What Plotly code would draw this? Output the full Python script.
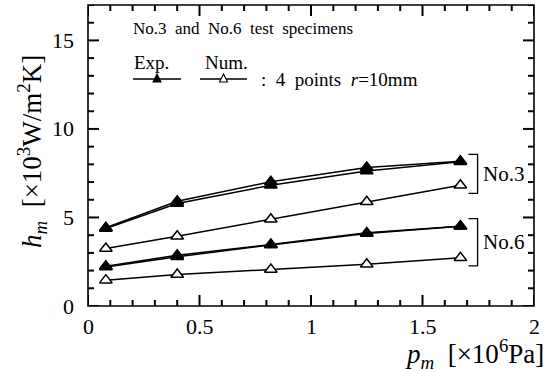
import plotly.graph_objects as go

# Data
p_m = [0.08, 0.40, 0.82, 1.25, 1.67]
no3_exp_a = [4.42, 5.92, 7.02, 7.82, 8.18]
no3_exp_b = [4.38, 5.79, 6.82, 7.62, 8.15]
no3_num = [3.25, 3.94, 4.90, 5.89, 6.82]
no6_exp_a = [2.25, 2.87, 3.47, 4.13, 4.50]
no6_exp_b = [2.20, 2.78, 3.45, 4.10, 4.50]
no6_num = [1.46, 1.78, 2.06, 2.36, 2.72]

x_ticks = [0, 0.5, 1, 1.5, 2]
x_ticklabels = ["0", "0.5", "1", "1.5", "2"]
x_minor = [i / 10 for i in range(21)]
y_ticks = [0, 5, 10, 15]
y_ticklabels = ["0", "5", "10", "15"]
y_minor = list(range(18))

FONT = "Liberation Serif"
W, H = 551, 372
L, R, T, B = 88, 17, 5, 66
PW, PH = W - L - R, H - T - B
XMAX, YMAX = 2, 17


def px(x):
    return (x - L) / PW


def py(y):
    return (H - B - y) / PH


fig = go.Figure()

# tick marks on all four sides, one short segment trace per tick
MAJ, MIN = 11, 6
for v in x_minor:
    ln = (MAJ if any(abs(v - t) < 1e-9 for t in x_ticks) else MIN) / PH * YMAX
    for ys in ([0, ln], [YMAX, YMAX - ln]):
        fig.add_trace(go.Scatter(x=[v, v], y=ys, mode="lines",
                                 line=dict(color="black", width=2),
                                 showlegend=False, hoverinfo="skip", cliponaxis=False))
for v in y_minor:
    ln = (MAJ if v in y_ticks else MIN) / PW * XMAX
    for xs in ([0, ln], [XMAX, XMAX - ln]):
        fig.add_trace(go.Scatter(x=xs, y=[v, v], mode="lines",
                                 line=dict(color="black", width=2),
                                 showlegend=False, hoverinfo="skip", cliponaxis=False))


def add(y, filled):
    fig.add_trace(go.Scatter(
        x=p_m, y=y, mode="lines+markers",
        line=dict(color="black", width=1.5),
        marker=dict(symbol="triangle-up", size=11,
                    color="black" if filled else "white",
                    line=dict(color="black", width=1.5)),
        showlegend=False, cliponaxis=False))


add(no3_num, False)
add(no6_num, False)
add(no3_exp_a, True)
add(no3_exp_b, True)
add(no6_exp_a, True)
add(no6_exp_b, True)

shapes = []
annotations = []

# frame
shapes.append(dict(type="rect", xref="paper", yref="paper", x0=0, x1=1, y0=0, y1=1,
                   line=dict(color="black", width=1.6)))

# tick labels
for v, t in zip(x_ticks, x_ticklabels):
    annotations.append(dict(x=v, y=py(326), xref="x", yref="paper", text=t,
                            showarrow=False, xanchor="center", yanchor="middle",
                            font=dict(family=FONT, size=22, color="black")))
for v, t in zip(y_ticks, y_ticklabels):
    annotations.append(dict(x=px(76), y=v, xref="paper", yref="y", text=t,
                            showarrow=False, xanchor="right", yanchor="middle",
                            font=dict(family=FONT, size=22, color="black")))

# brackets (data coords)
for y0, y1, label in [(8.56, 6.36, "No.3"), (4.94, 2.27, "No.6")]:
    shapes.append(dict(type="path", xref="x", yref="y",
                       path=f"M 1.706 {y0} L 1.747 {y0} L 1.747 {y1} L 1.706 {y1}",
                       line=dict(color="black", width=1.3)))
    annotations.append(dict(x=1.762, y=(y0 + y1) / 2, xref="x", yref="y",
                            text=label, showarrow=False, xanchor="left",
                            yanchor="middle",
                            font=dict(family=FONT, size=21, color="black")))

# in-plot legend
annotations.append(dict(x=px(131), y=py(29), xref="paper", yref="paper",
                        text="No.3  and  No.6  test  specimens", showarrow=False,
                        xanchor="left", yanchor="middle",
                        font=dict(family=FONT, size=17, color="black")))
annotations.append(dict(x=px(132), y=py(62), xref="paper", yref="paper",
                        text="Exp.", showarrow=False, xanchor="left", yanchor="middle",
                        font=dict(family=FONT, size=19, color="black")))
annotations.append(dict(x=px(203), y=py(62), xref="paper", yref="paper",
                        text="Num.", showarrow=False, xanchor="left", yanchor="middle",
                        font=dict(family=FONT, size=19, color="black")))
annotations.append(dict(x=px(259), y=py(80), xref="paper", yref="paper",
                        text=":  4  points  <i>r</i>=10mm", showarrow=False,
                        xanchor="left", yanchor="middle",
                        font=dict(family=FONT, size=19, color="black")))
for x0, x1, filled in [(133, 181, True), (200, 247, False)]:
    yy = 79
    shapes.append(dict(type="line", xref="paper", yref="paper",
                       x0=px(x0), x1=px(x1), y0=py(yy), y1=py(yy),
                       line=dict(color="black", width=1.3)))
    cx = (x0 + x1) / 2
    shapes.append(dict(type="path", xref="paper", yref="paper",
                       path=(f"M {px(cx - 4)} {py(yy + 3)} L {px(cx + 4)} {py(yy + 3)} "
                             f"L {px(cx)} {py(yy - 5)} Z"),
                       fillcolor="black" if filled else "white",
                       line=dict(color="black", width=1.1)))

# axis titles
annotations.append(dict(x=px(32), y=py(152), xref="paper", yref="paper",
                        text="<i>h<sub>m</sub></i>  [×10<sup>3</sup>W/m<sup>2</sup>K]",
                        textangle=-90, showarrow=False,
                        xanchor="center", yanchor="middle",
                        font=dict(family=FONT, size=27, color="black")))
annotations.append(dict(x=px(546), y=py(354), xref="paper", yref="paper",
                        text="<i>p<sub>m</sub></i>  [×10<sup>6</sup>Pa]",
                        showarrow=False, xanchor="right", yanchor="middle",
                        font=dict(family=FONT, size=27, color="black")))

fig.update_layout(
    width=W, height=H,
    margin=dict(l=L, r=R, t=T, b=B),
    paper_bgcolor="white", plot_bgcolor="white",
    font=dict(family=FONT, size=22, color="black"),
    shapes=shapes, annotations=annotations,
)

fig.update_xaxes(range=[0, XMAX], showticklabels=False, ticks="",
                 showline=False, showgrid=False, zeroline=False)
fig.update_yaxes(range=[0, YMAX], showticklabels=False, ticks="",
                 showline=False, showgrid=False, zeroline=False)

fig.write_html("out.html")
